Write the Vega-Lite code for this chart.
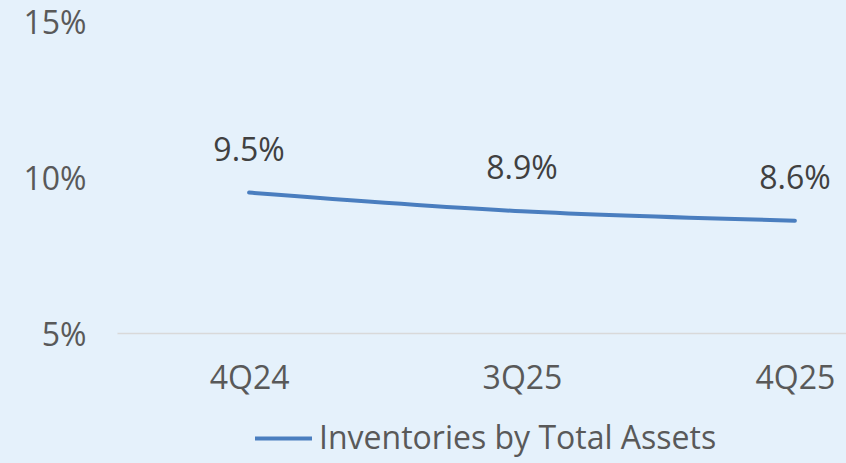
{
  "$schema": "https://vega.github.io/schema/vega-lite/v6.json",
  "width": 810,
  "height": 312,
  "autosize": "none",
  "padding": {"left": 117, "top": 21, "right": 0, "bottom": 130},
  "background": "#e5f1fb",
  "config": {"view": {"stroke": null}, "font": "Open Sans"},
  "data": {
    "values": [
      {"quarter": "4Q24", "value": 0.095, "series": "Inventories by Total Assets"},
      {"quarter": "3Q25", "value": 0.089, "series": "Inventories by Total Assets"},
      {"quarter": "4Q25", "value": 0.086, "series": "Inventories by Total Assets"}
    ]
  },
  "encoding": {
    "x": {
      "field": "quarter", "type": "ordinal", "sort": null,
      "scale": {"type": "point", "padding": 0.484},
      "axis": {"title": null, "labelAngle": 0, "ticks": false, "domainColor": "#d9d9d9", "domainWidth": 1.5, "labelPadding": 30, "labelFontSize": 32, "labelColor": "#595959", "labelFont": "Open Sans"}
    },
    "y": {
      "field": "value", "type": "quantitative",
      "scale": {"domain": [0.05, 0.15], "nice": false, "zero": false},
      "axis": {"title": null, "values": [0.05, 0.1, 0.15], "format": ".0%", "grid": false, "domain": false, "ticks": false, "labelPadding": 31, "labelOffset": 2, "labelFontSize": 32, "labelColor": "#595959", "labelFont": "Open Sans"}
    }
  },
  "layer": [
    {
      "mark": {"type": "line", "interpolate": "monotone", "strokeWidth": 4, "strokeCap": "round"},
      "encoding": {
        "color": {
          "field": "series", "type": "nominal",
          "scale": {"range": ["#4a7ebf"]},
          "legend": {"title": null, "orient": "none", "legendX": 136, "legendY": 387, "symbolType": "stroke", "symbolStrokeWidth": 4, "symbolSize": 3249, "labelFontSize": 32, "labelLimit": 700, "labelColor": "#595959", "labelOffset": 5, "labelFont": "Open Sans"}
        }
      }
    },
    {
      "mark": {"type": "text", "dy": -25, "baseline": "bottom", "fontSize": 32, "color": "#404040", "font": "Open Sans"},
      "encoding": {"text": {"field": "value", "type": "quantitative", "format": ".1%"}}
    }
  ]
}
